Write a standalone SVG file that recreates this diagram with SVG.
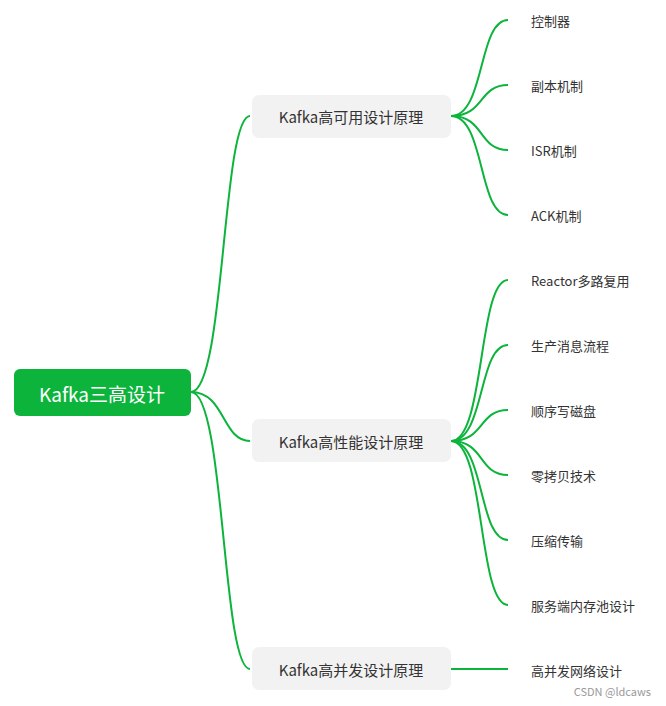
<svg xmlns="http://www.w3.org/2000/svg" width="666" height="706" viewBox="0 0 666 706">
<style>
.c{fill:none;stroke:#0cb43c;stroke-width:2}
.l1{fill:#f2f2f2}
.t1{font-family:"Noto Sans CJK SC","Liberation Sans",sans-serif;font-size:15px;fill:#333;text-anchor:middle;dominant-baseline:central}
.lf{font-family:"Noto Sans CJK SC","Liberation Sans",sans-serif;font-size:13px;fill:#333;dominant-baseline:central}
</style>
<rect width="666" height="706" fill="#fff"/>
<g id="connectors">
<path class="c" d="M191,392 C225,392 222,116 250,116"/>
<path class="c" d="M191,392 C225,392 222,441 250,441"/>
<path class="c" d="M191,392 C225,392 222,669 250,669"/>
<path class="c" d="M451,116 C485,116 478,20 508,20"/>
<path class="c" d="M451,116 C485,116 478,85 508,85"/>
<path class="c" d="M451,116 C485,116 478,150 508,150"/>
<path class="c" d="M451,116 C485,116 478,215 508,215"/>
<path class="c" d="M451,441 C485,441 478,280 508,280"/>
<path class="c" d="M451,441 C485,441 478,345 508,345"/>
<path class="c" d="M451,441 C485,441 478,410 508,410"/>
<path class="c" d="M451,441 C485,441 478,475 508,475"/>
<path class="c" d="M451,441 C485,441 478,540 508,540"/>
<path class="c" d="M451,441 C485,441 478,605 508,605"/>
<path class="c" d="M451,669 L508,669"/>
</g>
<g id="root"><rect x="14" y="369" width="177" height="47" rx="6" fill="#0cb43c"/><text x="102" y="393" font-family="Noto Sans CJK SC,Liberation Sans,sans-serif" font-size="19" fill="#fff" text-anchor="middle" dominant-baseline="central">Kafka三高设计</text></g>
<g id="n1"><rect class="l1" x="252" y="95" width="199" height="43" rx="7"/><text class="t1" x="351" y="116">Kafka高可用设计原理</text></g>
<g id="n2"><rect class="l1" x="252" y="419" width="199" height="43" rx="7"/><text class="t1" x="351" y="441">Kafka高性能设计原理</text></g>
<g id="n3"><rect class="l1" x="252" y="647" width="199" height="43" rx="7"/><text class="t1" x="351" y="669">Kafka高并发设计原理</text></g>
<g id="leaves">
<text class="lf" x="531" y="20">控制器</text>
<text class="lf" x="531" y="85">副本机制</text>
<text class="lf" x="531" y="150">ISR机制</text>
<text class="lf" x="531" y="215">ACK机制</text>
<text class="lf" x="531" y="280">Reactor多路复用</text>
<text class="lf" x="531" y="345">生产消息流程</text>
<text class="lf" x="531" y="410">顺序写磁盘</text>
<text class="lf" x="531" y="475">零拷贝技术</text>
<text class="lf" x="531" y="540">压缩传输</text>
<text class="lf" x="531" y="605">服务端内存池设计</text>
<text class="lf" x="531" y="670">高并发网络设计</text>
</g>
<text x="651" y="691" font-family="Noto Sans CJK SC,Liberation Sans,sans-serif" font-size="11" fill="#999" text-anchor="end" dominant-baseline="central">CSDN @ldcaws</text>
</svg>
